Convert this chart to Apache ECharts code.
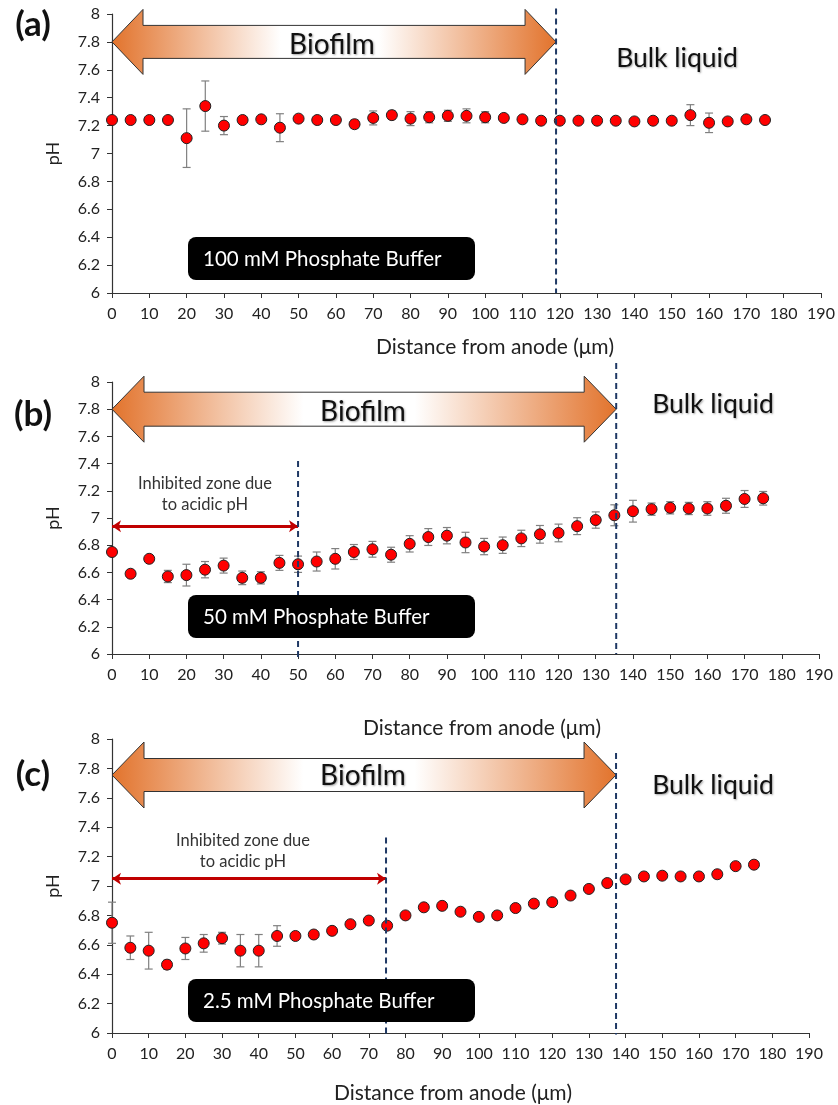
<!DOCTYPE html>
<html>
<head>
<meta charset="utf-8">
<script src="https://cdn.jsdelivr.net/npm/echarts@6/dist/echarts.min.js"></script>
<style>
    html, body { margin: 0; padding: 0; background: #fff; }
    #main { width: 838px; height: 1105px; }
</style>
</head>
<body>
<div id="main"></div>
<script>
// distance from anode (um)
var distance = [0, 5, 10, 15, 20, 25, 30, 35, 40, 45, 50, 55, 60, 65, 70, 75, 80, 85,
    90, 95, 100, 105, 110, 115, 120, 125, 130, 135, 140, 145, 150, 155, 160, 165, 170, 175];

// (a) 100 mM phosphate buffer
var phA = [7.24, 7.24, 7.24, 7.24, 7.11, 7.34, 7.20, 7.24, 7.245, 7.185, 7.25, 7.24, 7.24, 7.21, 7.255, 7.275, 7.25, 7.26,
    7.27, 7.27, 7.26, 7.255, 7.245, 7.235, 7.235, 7.235, 7.235, 7.235, 7.23, 7.235, 7.235, 7.275, 7.22, 7.23, 7.245, 7.24];
var errA = [0, 0, 0, 0, 0.21, 0.18, 0.065, 0, 0.01, 0.1, 0.01, 0, 0, 0.03, 0.05, 0.03, 0.05, 0.04,
    0.04, 0.05, 0.04, 0.02, 0.01, 0, 0, 0, 0, 0, 0, 0, 0, 0.075, 0.07, 0, 0, 0];

// (b) 50 mM phosphate buffer
var phB = [6.75, 6.59, 6.70, 6.57, 6.58, 6.62, 6.65, 6.56, 6.56, 6.67, 6.66, 6.68, 6.70, 6.75, 6.77, 6.73, 6.81, 6.86,
    6.87, 6.82, 6.79, 6.80, 6.85, 6.88, 6.89, 6.94, 6.985, 7.02, 7.05, 7.065, 7.075, 7.07, 7.07, 7.09, 7.14, 7.145];
var errB = [0, 0, 0, 0.045, 0.08, 0.06, 0.055, 0.05, 0.045, 0.055, 0.06, 0.07, 0.075, 0.055, 0.058, 0.055, 0.06, 0.062,
    0.06, 0.075, 0.06, 0.06, 0.06, 0.065, 0.065, 0.062, 0.06, 0.077, 0.08, 0.045, 0.045, 0.045, 0.05, 0.055, 0.062, 0.05];

// (c) 2.5 mM phosphate buffer
var phC = [6.75, 6.58, 6.56, 6.465, 6.575, 6.61, 6.645, 6.56, 6.56, 6.66, 6.66, 6.67, 6.695, 6.74, 6.765, 6.73, 6.80, 6.855,
    6.865, 6.825, 6.79, 6.80, 6.85, 6.88, 6.89, 6.935, 6.98, 7.02, 7.045, 7.065, 7.07, 7.065, 7.065, 7.08, 7.135, 7.145];
var errC = [0.14, 0.08, 0.125, 0.03, 0.075, 0.06, 0.04, 0.11, 0.11, 0.07, 0.02, 0.02, 0.01, 0, 0, 0, 0, 0,
    0, 0, 0, 0, 0, 0, 0, 0, 0, 0, 0, 0, 0, 0, 0, 0, 0, 0];

var panelNames = ['(a)', '(b)', '(c)'];
var bufferNames = ['100 mM Phosphate Buffer', '50 mM Phosphate Buffer', '2.5 mM Phosphate Buffer'];
var biofilmEdge = [119, 135.5, 137.4];       // end of biofilm (dashed line)
var inhibitedEdge = [null, 50, 74.7];        // end of inhibited zone
var inhibitedPh = [null, 6.94, 7.05];        // level of the red arrow

var FONT = 'Lato, "Open Sans", sans-serif';
var allPh = [phA, phB, phC];
var allErr = [errA, errB, errC];

// grid positions in pixels
var grids = [
    { left: 112, right: 17, top: 14, height: 279 },
    { left: 112, right: 19, top: 382, height: 272 },
    { left: 112, right: 29, top: 739, height: 294 }
];

function renderErr(params, api) {
    var x = api.value(0);
    var lo = api.coord([x, api.value(1)]);
    var hi = api.coord([x, api.value(2)]);
    var w = 4;
    var st = { stroke: '#808080', lineWidth: 1.2 };
    return {
        type: 'group',
        children: [
            { type: 'line', shape: { x1: lo[0], y1: lo[1], x2: hi[0], y2: hi[1] }, style: st },
            { type: 'line', shape: { x1: lo[0] - w, y1: lo[1], x2: lo[0] + w, y2: lo[1] }, style: st },
            { type: 'line', shape: { x1: hi[0] - w, y1: hi[1], x2: hi[0] + w, y2: hi[1] }, style: st }
        ]
    };
}

var xAxes = [], yAxes = [], series = [];
for (var i = 0; i < 3; i++) {
    xAxes.push({
        type: 'value', gridIndex: i, min: 0, max: 190, interval: 10,
        axisLine: { lineStyle: { color: '#333', width: 1.2 } },
        axisTick: { show: true, length: 5, lineStyle: { color: '#333' } },
        axisLabel: { color: '#222', fontSize: 16, margin: 13, fontFamily: FONT },
        splitLine: { show: false }
    });
    yAxes.push({
        type: 'value', gridIndex: i, min: 6, max: 8, interval: 0.2,
        name: 'pH', nameLocation: 'middle', nameGap: 50,
        nameTextStyle: { color: '#222', fontSize: 18, fontFamily: FONT },
        axisLine: { show: true, lineStyle: { color: '#333', width: 1.2 } },
        axisTick: { show: true, length: 5, lineStyle: { color: '#333' } },
        axisLabel: {
            color: '#222', fontSize: 16, margin: 12, fontFamily: FONT,
            formatter: function (v) { return String(+v.toFixed(1)); }
        },
        splitLine: { show: false }
    });

    var ph = allPh[i], err = allErr[i];
    var errData = [], ptData = [];
    for (var j = 0; j < distance.length; j++) {
        ptData.push([distance[j], ph[j]]);
        if (err[j] > 0) errData.push([distance[j], ph[j] - err[j], ph[j] + err[j]]);
    }
    series.push({
        type: 'custom', xAxisIndex: i, yAxisIndex: i, renderItem: renderErr,
        data: errData, z: 2, silent: true
    });
    var sc = {
        type: 'scatter', xAxisIndex: i, yAxisIndex: i, data: ptData, z: 3,
        symbolSize: 11,
        itemStyle: { color: '#ff0000', borderColor: '#222', borderWidth: 1, opacity: 1 }
    };
    if (inhibitedEdge[i] != null) {
        sc.markLine = {
            silent: true, animation: false,
            symbol: ['arrow', 'arrow'], symbolSize: [9, 9],
            label: { show: false },
            lineStyle: { color: '#c00000', width: 3, type: 'solid' },
            data: [[{ coord: [0, inhibitedPh[i]] }, { coord: [inhibitedEdge[i], inhibitedPh[i]] }]]
        };
    }
    series.push(sc);
}

var chart = echarts.init(document.getElementById('main'));
chart.setOption({
    animation: false,
    backgroundColor: '#fff',
    grid: grids,
    xAxis: xAxes,
    yAxis: yAxes,
    series: series
});

// annotations, placed through the axes
var px = function (g, x, y) { return chart.convertToPixel({ gridIndex: g }, [x, y]); };
var graphic = [];

function bigArrow(g, yv, xEnd, hh, sh, hl) {
    var a = px(g, 0, yv), b = px(g, xEnd, yv);
    var x0 = a[0], x1 = b[0], yc = a[1];
    graphic.push({
        type: 'polygon', z: 1,
        shape: { points: [
            [x0, yc], [x0 + hl, yc - hh], [x0 + hl, yc - sh], [x1 - hl, yc - sh], [x1 - hl, yc - hh],
            [x1, yc], [x1 - hl, yc + hh], [x1 - hl, yc + sh], [x0 + hl, yc + sh], [x0 + hl, yc + hh]
        ] },
        style: {
            fill: new echarts.graphic.LinearGradient(0, 0, 1, 0, [
                { offset: 0, color: '#e2732c' },
                { offset: 0.38, color: '#ffffff' },
                { offset: 0.6, color: '#ffffff' },
                { offset: 1, color: '#e2732c' }
            ]),
            stroke: '#333', lineWidth: 1
        }
    });
}

function dashed(g, xv, yTop, yBot) {
    var t = px(g, xv, yTop), b = px(g, xv, yBot);
    graphic.push({
        type: 'line', z: 5,
        shape: { x1: t[0], y1: t[1], x2: b[0], y2: b[1] },
        style: { stroke: '#1f3864', lineWidth: 2, lineDash: [6, 4] }
    });
}

function text(x, y, str, size, opts) {
    var st = {
        text: str, x: x, y: y, fontSize: size, fontFamily: FONT,
        fill: '#111', align: 'center', verticalAlign: 'middle'
    };
    for (var k in (opts || {})) st[k] = opts[k];
    graphic.push({ type: 'text', z: 10, style: st });
}

bigArrow(0, 7.8, biofilmEdge[0], 32.5, 16.5, 31);
bigArrow(1, 7.8, biofilmEdge[1], 33, 17, 32);
bigArrow(2, 7.755, biofilmEdge[2], 33, 16.5, 32);

dashed(0, biofilmEdge[0], 8.04, 6);
dashed(1, biofilmEdge[1], 8.14, 6);
dashed(1, inhibitedEdge[1], 7.42, 5.96);
dashed(2, biofilmEdge[2], 7.905, 5.99);
dashed(2, inhibitedEdge[2], 7.33, 5.99);

var shadow = { textShadowColor: 'rgba(0,0,0,0.35)', textShadowBlur: 2, textShadowOffsetX: 1, textShadowOffsetY: 1 };
text(332, 45, 'Biofilm', 28, shadow);
text(363, 412, 'Biofilm', 28, shadow);
text(363, 776, 'Biofilm', 28, shadow);
text(677, 58, 'Bulk liquid', 26.5, shadow);
text(713, 404, 'Bulk liquid', 26.5, shadow);
text(713, 785, 'Bulk liquid', 26.5, shadow);

text(33, 25, panelNames[0], 35, { fontWeight: 'bold' });
text(33, 415, panelNames[1], 35, { fontWeight: 'bold' });
text(33, 775, panelNames[2], 35, { fontWeight: 'bold' });

text(495, 347, 'Distance from anode (\u03bcm)', 21, { fill: '#222' });
text(482, 728, 'Distance from anode (\u03bcm)', 21, { fill: '#222' });
text(453, 1093, 'Distance from anode (\u03bcm)', 21, { fill: '#222' });

text(205, 484, 'Inhibited zone due', 16.5, { fill: '#333' });
text(205, 505, 'to acidic pH', 16.5, { fill: '#333' });
text(243, 841, 'Inhibited zone due', 16.5, { fill: '#333' });
text(243, 862, 'to acidic pH', 16.5, { fill: '#333' });

// buffer labels in black boxes
var boxTops = [237, 595, 979];
for (var b = 0; b < 3; b++) {
    graphic.push({
        type: 'rect', z: 8,
        shape: { x: 188, y: boxTops[b], width: 287, height: 43, r: 8 },
        style: { fill: '#000' }
    });
    text(203, boxTops[b] + 22, bufferNames[b], 20.5, { fill: '#fff', align: 'left' });
}

chart.setOption({ graphic: graphic });
</script>
</body>
</html>
